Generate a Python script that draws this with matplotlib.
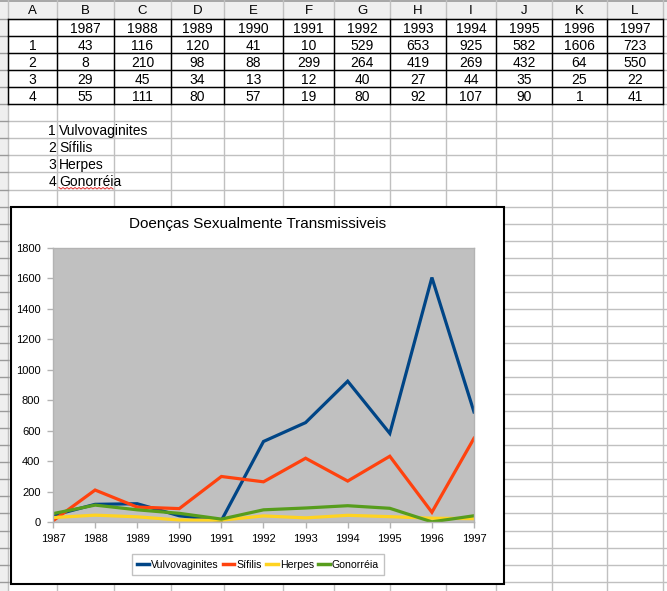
import numpy as np
import matplotlib
matplotlib.use("Agg")
import matplotlib.pyplot as plt
from matplotlib.patches import Rectangle
from matplotlib.lines import Line2D

plt.rcParams['font.family'] = ['Liberation Sans', 'DejaVu Sans']

# data read from the sheet
years = [1987, 1988, 1989, 1990, 1991, 1992, 1993, 1994, 1995, 1996, 1997]
vulvovaginites = [43, 116, 120, 41, 10, 529, 653, 925, 582, 1606, 723]
sifilis = [8, 210, 98, 88, 299, 264, 419, 269, 432, 64, 550]
herpes = [29, 45, 34, 13, 12, 40, 27, 44, 35, 25, 22]
gonorreia = [55, 111, 80, 57, 19, 80, 92, 107, 90, 1, 41]
names = ['Vulvovaginites', 'Sífilis', 'Herpes', 'Gonorréia']
col_letters = ['A', 'B', 'C', 'D', 'E', 'F', 'G', 'H', 'I', 'J', 'K', 'L']
colors = ['#004586', '#ff420e', '#ffd320', '#579d1c']
title = 'Doenças Sexualmente Transmissiveis'

W, H = 667, 591
fig = plt.figure(figsize=(W / 100, H / 100), dpi=100)
bg = fig.add_axes([0, 0, 1, 1])
bg.set_xlim(0, W)
bg.set_ylim(H, 0)
bg.axis('off')

# sheet geometry (pixels)
col_x = [8, 57, 114, 171, 224, 283, 334, 390, 446, 496, 552, 607, 663, 720]
head_h = 19
row_h = 17.05
row_y = [head_h + row_h * k for k in range(40)]
grid_c = '#c0c0c0'

# header strips
bg.add_patch(Rectangle((0, 0), W, head_h, fc='#efefef', ec='none', zorder=1))
bg.add_patch(Rectangle((0, 0), 8, H, fc='#efefef', ec='none', zorder=1))
bg.plot([0, W], [0.5, 0.5], color='#9a9a9a', lw=1.2, zorder=2)
bg.plot([0, W], [head_h, head_h], color='#9a9a9a', lw=1, zorder=2)
for x in col_x:
    bg.plot([x, x], [0, H], color=grid_c, lw=1, zorder=2)
for y in row_y[1:]:
    bg.plot([8, W], [y, y], color=grid_c, lw=1, zorder=2)
    bg.plot([0, 8], [y, y], color='#9a9a9a', lw=1, zorder=2)
for i, c in enumerate(col_letters):
    bg.text((col_x[i] + col_x[i + 1]) / 2, head_h / 2 + 1, c, ha='center',
            va='center', fontsize=9.5, zorder=3)

# data table with black borders
ntab = 5
for y in row_y[:ntab + 1]:
    bg.plot([col_x[0], col_x[12]], [y, y], color='black', lw=1, zorder=3)
for x in col_x[:13]:
    bg.plot([x, x], [row_y[0], row_y[ntab]], color='black', lw=1, zorder=3)


def cell_center(ci, ri):
    return (col_x[ci] + col_x[ci + 1]) / 2, (row_y[ri] + row_y[ri + 1]) / 2 + 1


for j, yr in enumerate(years):
    x, y = cell_center(j + 1, 0)
    bg.text(x, y, str(yr), ha='center', va='center', fontsize=10, zorder=4)
for i, series in enumerate([vulvovaginites, sifilis, herpes, gonorreia]):
    x, y = cell_center(0, i + 1)
    bg.text(x, y, str(i + 1), ha='center', va='center', fontsize=10, zorder=4)
    for j, v in enumerate(series):
        x, y = cell_center(j + 1, i + 1)
        bg.text(x, y, str(v), ha='center', va='center', fontsize=10, zorder=4)

# key list below the table
for i, nm in enumerate(names):
    y = (row_y[6 + i] + row_y[7 + i]) / 2 + 1
    bg.text(col_x[1] - 1, y, str(i + 1), ha='right', va='center', fontsize=10, zorder=4)
    bg.text(col_x[1] + 2, y, nm, ha='left', va='center', fontsize=10, zorder=4)
# spell-check squiggle under the last name
sq_x = np.arange(col_x[1] + 2, col_x[1] + 57, 2)
sq_y = row_y[10] - 2 + (np.arange(len(sq_x)) % 2) * 1.5
bg.plot(sq_x, sq_y, color='#e03030', lw=0.7, zorder=4)

# chart frame
bg.add_patch(Rectangle((11, 207), 493, 377, fc='white', ec='black', lw=1.5, zorder=5))
bg.text(258, 224, title, ha='center', va='center', fontsize=11, zorder=6)

# plot area
ax = fig.add_axes([53 / W, 1 - 522 / H, (474 - 53) / W, (522 - 248) / H])
ax.set_facecolor('#c0c0c0')
for s in ax.spines.values():
    s.set_color('#b3b3b3')
    s.set_linewidth(1)
series_all = [vulvovaginites, sifilis, herpes, gonorreia]
for vals, nm, c in zip(series_all, names, colors):
    ax.plot(years, vals, color=c, lw=2.3, label=nm, solid_joinstyle='miter')
ax.set_xlim(years[0], years[-1])
ax.set_ylim(0, 1800)
ax.set_yticks(np.arange(0, 1801, 200))
ax.set_xticks(years)
ax.tick_params(axis='both', length=4, width=1, color='#b3b3b3', labelsize=8, pad=5)
ax.tick_params(axis='x', pad=5)

handles = [Line2D([0], [0], color=c, lw=2.5) for c in colors]
leg = fig.legend(handles, names, loc='center', bbox_to_anchor=(258 / W, 1 - 564.5 / H),
                 ncol=4, fontsize=7.6, frameon=True, fancybox=False,
                 handlelength=1.1, handletextpad=0.2, columnspacing=0.4,
                 borderpad=0.5, edgecolor='#b3b3b3')
leg.get_frame().set_linewidth(1)

fig.savefig('out.png', dpi=100)
